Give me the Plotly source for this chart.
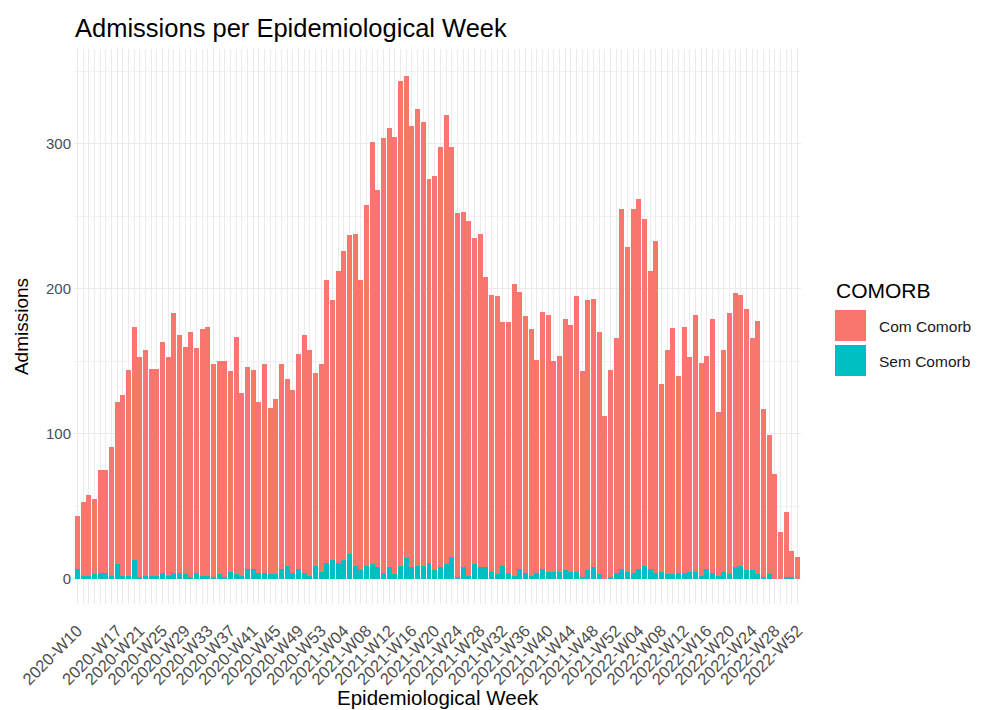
import plotly.graph_objects as go

# Categorías: semanas epidemiológicas (2020-W10 .. 2022-W31, mais 2022-W52)
WEEKS = ([f"2020-W{w:02d}" for w in range(10, 54)]
         + [f"2021-W{w:02d}" for w in range(1, 53)]
         + [f"2022-W{w:02d}" for w in range(1, 32)]
         + ["2022-W52"])

TICK_LABELS = ["2020-W10", "2020-W17", "2020-W21", "2020-W25", "2020-W29", "2020-W33",
               "2020-W37", "2020-W41", "2020-W45", "2020-W49", "2020-W53",
               "2021-W04", "2021-W08", "2021-W12", "2021-W16", "2021-W20", "2021-W24",
               "2021-W28", "2021-W32", "2021-W36", "2021-W40", "2021-W44", "2021-W48",
               "2021-W52", "2022-W04", "2022-W08", "2022-W12", "2022-W16", "2022-W20",
               "2022-W24", "2022-W28", "2022-W52"]

COM_COMORB = [36, 51, 56, 52, 71, 71, 89, 112, 125, 142, 161, 152, 156, 143, 143, 159,
              151, 179, 164, 157, 169, 155, 170, 172, 147, 147, 149, 138, 164, 126, 139, 137,
              118, 144, 115, 121, 141, 129, 126, 148, 164, 156, 133, 143, 195, 179, 201, 213,
              220, 229, 200, 249, 291, 260, 300, 303, 302, 334, 333, 304, 315, 306, 265, 272,
              290, 310, 283, 251, 245, 245, 225, 230, 200, 191, 192, 168, 173, 201, 191, 177,
              170, 147, 177, 177, 145, 149, 173, 170, 190, 142, 186, 185, 167, 112, 143, 162,
              248, 224, 251, 255, 239, 205, 229, 129, 155, 170, 136, 170, 148, 177, 147, 147,
              175, 113, 153, 180, 189, 187, 180, 160, 175, 116, 96, 72, 32, 45, 18, 15]

SEM_COMORB = [7, 2, 2, 3, 4, 4, 2, 10, 2, 2, 13, 1, 2, 2, 2, 4,
              2, 4, 4, 3, 1, 4, 2, 2, 1, 3, 1, 5, 3, 2, 7, 7,
              4, 4, 3, 3, 7, 9, 4, 7, 4, 2, 9, 5, 11, 13, 11, 13,
              17, 9, 6, 9, 10, 8, 4, 8, 3, 9, 14, 8, 9, 9, 11, 6,
              8, 10, 15, 1, 8, 2, 10, 8, 8, 5, 3, 9, 4, 2, 7, 4,
              2, 4, 7, 5, 5, 5, 6, 5, 5, 1, 6, 8, 3, 0, 1, 4,
              7, 5, 4, 7, 9, 7, 4, 5, 3, 3, 4, 4, 5, 5, 2, 7,
              4, 2, 5, 3, 8, 9, 6, 6, 3, 1, 3, 0, 0, 1, 1, 0]

RED = "#F8766D"
TEAL = "#00BFC4"
FONT = "Liberation Sans, Arial, sans-serif"

W, H = 982, 710
OFF = 8  # margem do <body> na página
# painel (em pixels da página): x 74..801, y 49..604
PX0, PX1, PY0, PY1 = 74, 801, 49, 604
L, R, T, B = PX0 - OFF, W - (PX1 - OFF), PY0 - OFF, H - (PY1 - OFF)


def px(x, y):
    # pixel da página -> coordenadas "paper"
    return (x - PX0) / (PX1 - PX0), (PY1 - y) / (PY1 - PY0)


fig = go.Figure()
fig.add_trace(go.Bar(x=WEEKS, y=SEM_COMORB, name="Sem Comorb",
                     marker=dict(color=TEAL, line=dict(width=0))))
fig.add_trace(go.Bar(x=WEEKS, y=COM_COMORB, name="Com Comorb",
                     marker=dict(color=RED, line=dict(width=0))))

ticktext = [w if w in TICK_LABELS else "" for w in WEEKS]

fig.update_layout(
    width=W, height=H,
    barmode="stack", bargap=0.12,
    showlegend=False,
    plot_bgcolor="white", paper_bgcolor="white",
    margin=dict(l=L, r=R, t=T, b=B, autoexpand=False),
    font=dict(family=FONT, color="#4D4D4D"),
    title=dict(text="Admissions per Epidemiological Week", x=px(75, 0)[0], xref="paper",
               xanchor="left", y=1 - (28 - OFF) / H, yref="container", yanchor="middle",
               font=dict(size=25.5, color="black", family=FONT)),
    xaxis=dict(
        type="category", range=[-0.6, 127.6],
        tickmode="array", tickvals=WEEKS, ticktext=ticktext,
        tickangle=-45, tickfont=dict(size=16.5, color="#4D4D4D"),
        ticks="", ticklabelstandoff=13,
        showgrid=True, gridcolor="#EBEBEB", gridwidth=1,
        showline=False, zeroline=False,
    ),
    yaxis=dict(
        range=[-17.4, 365.4],
        tickvals=[0, 100, 200, 300], tickfont=dict(size=15, color="#4D4D4D"),
        ticks="", ticklabelstandoff=2,
        showgrid=True, gridcolor="#EBEBEB", gridwidth=1.2,
        minor=dict(tickvals=[50, 150, 250, 350], showgrid=True, gridcolor="#F2F2F2", gridwidth=0.7),
        zeroline=False, showline=False,
        title=dict(text="Admissions", font=dict(size=19, color="black"), standoff=12),
    ),
)

# título do eixo x como anotação para controlar a posição
tx, ty = px((PX0 + PX1) / 2, 697)
fig.add_annotation(text="Epidemiological Week", xref="paper", yref="paper", x=tx, y=ty,
                   xanchor="center", yanchor="middle", showarrow=False,
                   font=dict(size=20.5, color="black"))

# legenda desenhada à mão (chaves grandes como no ggplot)
shapes = []
for (y0, y1), col in [((310, 341), RED), ((345, 376), TEAL)]:
    x0p, y0p = px(835, y1)
    x1p, y1p = px(866, y0)
    shapes.append(dict(type="rect", xref="paper", yref="paper", x0=x0p, x1=x1p,
                       y0=y0p, y1=y1p, fillcolor=col, line=dict(width=0)))
fig.update_layout(shapes=shapes)

ax, ay = px(834, 290)
fig.add_annotation(text="COMORB", xref="paper", yref="paper", x=ax, y=ay,
                   xanchor="left", yanchor="middle", showarrow=False,
                   font=dict(size=21, color="black"))
for label, yy in [("Com Comorb", 326), ("Sem Comorb", 361)]:
    lx, ly = px(877, yy)
    fig.add_annotation(text=label, xref="paper", yref="paper", x=lx, y=ly,
                       xanchor="left", yanchor="middle", showarrow=False,
                       font=dict(size=15.5, color="#1A1A1A"))

fig.write_html("out.html")
